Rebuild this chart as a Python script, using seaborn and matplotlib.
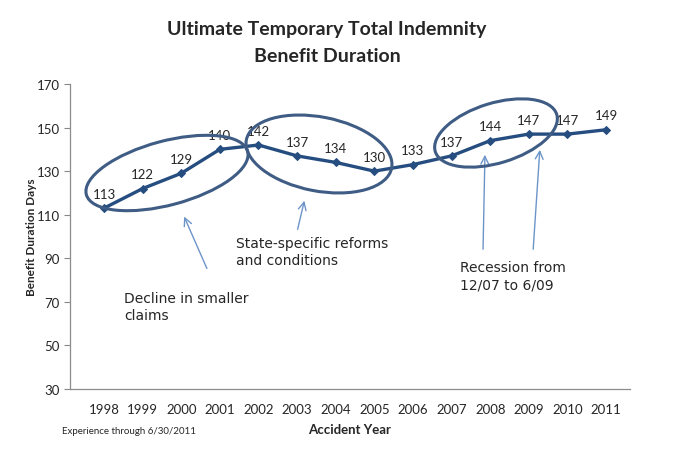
import numpy as np
import pandas as pd
import matplotlib
matplotlib.use("Agg")
import matplotlib.pyplot as plt
import seaborn as sns
from matplotlib.patches import Ellipse
from matplotlib.transforms import IdentityTransform

# --- data ---
years = ['1998', '1999', '2000', '2001', '2002', '2003', '2004',
         '2005', '2006', '2007', '2008', '2009', '2010', '2011']
duration = [113, 122, 129, 140, 142, 137, 134, 130, 133, 137, 144, 147, 147, 149]
y_ticks = [30, 50, 70, 90, 110, 130, 150, 170]

df = pd.DataFrame({'Year': years, 'Days': duration})
df['pos'] = np.arange(len(years))

sns.set_style("white")
plt.rcParams['font.family'] = ['Lato', 'DejaVu Sans']

W, H = 678, 452
fig = plt.figure(figsize=(W / 100, H / 100), dpi=100)
ax = fig.add_axes([70 / W, 1 - 390 / H, 560 / W, 305 / H])

line_col = '#264d80'
sns.lineplot(data=df, x='pos', y='Days', ax=ax, color=line_col, linewidth=2.4,
             marker='D', markersize=4.5, markeredgecolor=line_col)

for x, v in zip(df['pos'], df['Days']):
    ax.annotate(str(v), (x, v), xytext=(0, 6), textcoords='offset points',
                ha='center', va='bottom', fontsize=9.5)

ax.set_xlim(-0.88, 13.62)
ax.set_ylim(30, 170)
ax.set_xticks(df['pos'])
ax.set_xticklabels(years, fontsize=9.5)
ax.set_yticks(y_ticks)
ax.tick_params(axis='y', labelsize=9.5, length=4, width=0.8, color='#888888', direction='out', left=True)
ax.tick_params(axis='x', length=0, pad=10)
for s in ['top', 'right']:
    ax.spines[s].set_visible(False)
for s in ['left', 'bottom']:
    ax.spines[s].set_color('#8c8c8c')
    ax.spines[s].set_linewidth(0.9)

ax.set_xlabel('Accident Year', fontsize=9.5, fontweight='bold', labelpad=6)
ax.set_ylabel('Benefit Duration Days', fontsize=8.5, fontweight='bold')
ax.yaxis.set_label_coords(-33 / 560, 0.5)

fig.text(327 / W, 1 - 30 / H, 'Ultimate Temporary Total Indemnity', ha='center', va='center',
         fontsize=14, fontweight='bold')
fig.text(327 / W, 1 - 57 / H, 'Benefit Duration', ha='center', va='center',
         fontsize=14, fontweight='bold')
fig.text(62 / W, 1 - 432 / H, 'Experience through 6/30/2011', ha='left', va='center', fontsize=7)

# ellipses (pixel coordinates, y measured from top)
ell_col = '#3f5c85'
for cx, cy, w, h, ang in [(167, 174, 167, 64, 15), (319, 155, 148, 74, -11), (496, 134, 127, 60, 17)]:
    e = Ellipse((cx, H - cy), w, h, angle=ang, fill=False, edgecolor=ell_col, linewidth=2.2,
                transform=IdentityTransform())
    fig.add_artist(e)

# arrows
arr_col = '#6d94c9'
for (tx, ty), (hx, hy) in [((208, 272), (183, 215)), ((297, 233), (305, 199)),
                           ((483, 253), (485, 153)), ((533, 253), (540, 148))]:
    ax.annotate('', xy=(hx, H - hy), xycoords='figure pixels',
                xytext=(tx, H - ty), textcoords='figure pixels',
                arrowprops=dict(arrowstyle='->', color=arr_col, lw=1.0, mutation_scale=14))

note_kw = dict(fontsize=10, family='DejaVu Sans', ha='left', va='top', linespacing=1.3)
fig.text(124 / W, 1 - 292 / H, 'Decline in smaller\nclaims', **note_kw)
fig.text(236 / W, 1 - 237 / H, 'State-specific reforms\nand conditions', **note_kw)
fig.text(460 / W, 1 - 261 / H, 'Recession from\n12/07 to 6/09', **note_kw)

fig.savefig('out.png', dpi=100)
